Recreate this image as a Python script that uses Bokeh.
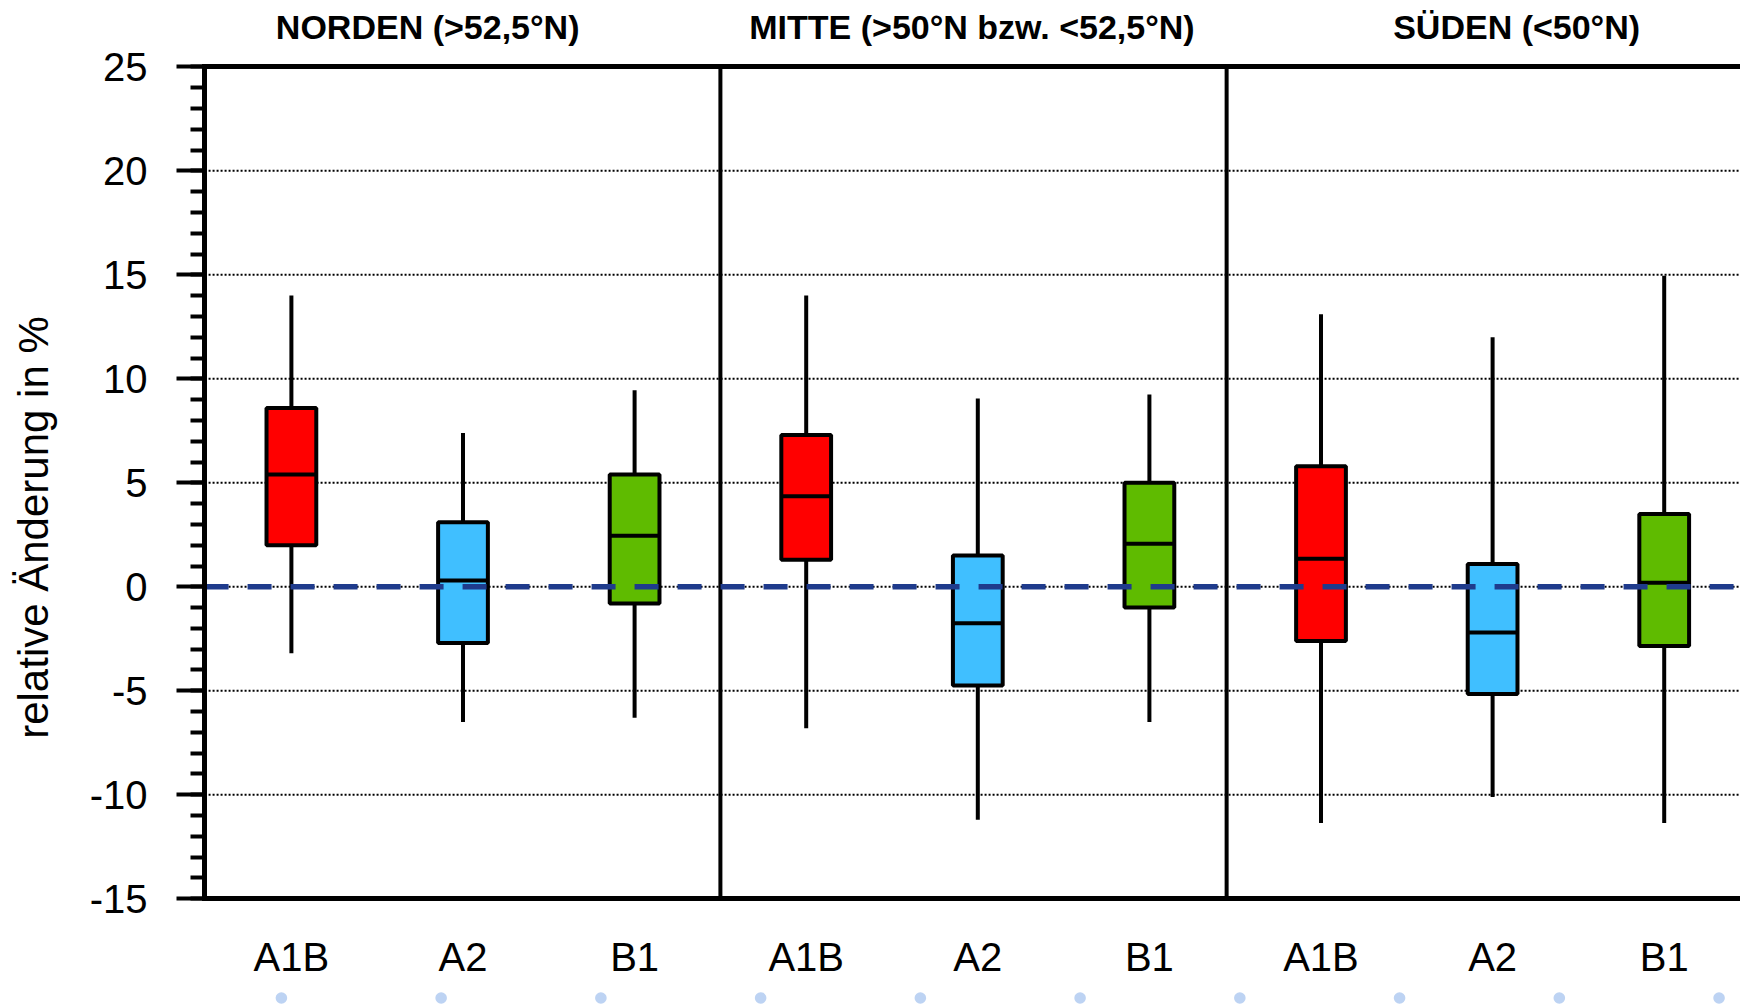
from math import pi

import numpy as np
from bokeh.core.properties import value
from bokeh.embed import file_html
from bokeh.models import ColumnDataSource, FixedTicker, LinearAxis, Range1d
from bokeh.plotting import figure
from bokeh.resources import INLINE

# Regions (panels) and emission scenarios
regions = ["NORDEN (>52,5°N)", "MITTE (>50°N bzw. <52,5°N)", "SÜDEN (<50°N)"]
scenarios = ["A1B", "A2", "B1"]
scenario_colors = ["#ff0000", "#40bfff", "#5fbb00"]

# Box plot statistics, relative change in %, ordered region by region (A1B, A2, B1)
whisker_low = [-3.2, -6.5, -6.3, -6.8, -11.2, -6.5, -11.35, -10.1, -11.35]
quartile_1 = [2.0, -2.7, -0.8, 1.3, -4.75, -1.0, -2.6, -5.15, -2.85]
median = [5.4, 0.3, 2.45, 4.35, -1.75, 2.07, 1.35, -2.2, 0.2]
quartile_3 = [8.6, 3.1, 5.4, 7.3, 1.5, 5.0, 5.8, 1.1, 3.5]
whisker_high = [14.0, 7.4, 9.45, 14.0, 9.05, 9.25, 13.1, 12.0, 14.95]

y_ticks = [-15, -10, -5, 0, 5, 10, 15, 20, 25]
y_label = "relative Änderung in %"

FONT = "Liberation Sans"
BOX_W = 0.29

# plotting area limits (data units)
X_LO, X_HI = -0.506, 8.445
Y_LO, Y_HI = -15, 25

xs = list(range(len(regions) * len(scenarios)))
src = ColumnDataSource(dict(
    x=xs,
    lo=whisker_low,
    q1=quartile_1,
    med=median,
    q3=quartile_3,
    hi=whisker_high,
    color=[scenario_colors[i % 3] for i in xs],
    x0=[x - BOX_W / 2 for x in xs],
    x1=[x + BOX_W / 2 for x in xs],
))

# the frame fills the whole canvas; axes are pinned to the plotting area
p = figure(
    width=1740, height=1004,
    x_range=Range1d(-1.6952, 8.4446), y_range=Range1d(-20.082, 28.188),
    output_backend="svg", toolbar_location=None,
    x_axis_location=None, y_axis_location=None,
    min_border=0, outline_line_color=None,
    background_fill_color="white", border_fill_color="white",
)
p.grid.visible = False
p.extra_x_ranges = {"page": Range1d(0, 1740)}
p.extra_y_ranges = {"page": Range1d(1004, 0)}

# dotted grid lines between the frame edges
grid_y = [t for t in y_ticks if Y_LO < t < Y_HI]
p.segment(x0=[X_LO] * len(grid_y), x1=[X_HI] * len(grid_y), y0=grid_y, y1=grid_y,
          line_color="black", line_width=2, line_dash="2 2")

# panel separators
seps = [2.5, 5.45]
p.segment(x0=seps, x1=seps, y0=[Y_LO] * 2, y1=[Y_HI] * 2, line_color="black", line_width=4)

# whiskers, boxes, medians
p.segment(x0="x", y0="lo", x1="x", y1="hi", source=src, line_color="black", line_width=4)
p.vbar(x="x", width=BOX_W, top="q3", bottom="q1", source=src,
       fill_color="color", line_color="black", line_width=4)
p.segment(x0="x0", y0="med", x1="x1", y1="med", source=src, line_color="black", line_width=4)

# zero reference line
p.segment(x0=[X_LO], x1=[X_HI], y0=[0], y1=[0], line_color="#1f3b8c",
          line_width=5.5, line_dash="24 19")

# y axis with minor ticks every 1 %
ya = LinearAxis(
    fixed_location=X_LO, bounds=(Y_LO, Y_HI),
    ticker=FixedTicker(ticks=y_ticks, minor_ticks=list(range(Y_LO, Y_HI + 1))),
    major_label_overrides={t: str(t) for t in y_ticks},
    axis_line_width=5, axis_line_color="black", axis_line_cap="square",
    major_tick_line_width=4, minor_tick_line_width=4,
    major_tick_out=28, major_tick_in=0, minor_tick_out=14, minor_tick_in=0,
    major_label_text_font=FONT, major_label_text_font_size="40px",
    major_label_text_color="black", major_label_standoff=29,
)
p.add_layout(ya, "left")

# x axis: scenario names under every box
xa = LinearAxis(
    fixed_location=Y_LO, bounds=(X_LO, X_HI),
    ticker=FixedTicker(ticks=xs, minor_ticks=[]),
    major_label_overrides={i: scenarios[i % 3] for i in xs},
    axis_line_width=5, axis_line_color="black", axis_line_cap="square",
    major_tick_out=0, major_tick_in=0, minor_tick_out=0, minor_tick_in=0,
    major_label_text_font=FONT, major_label_text_font_size="40px",
    major_label_text_color="black", major_label_standoff=36,
)
p.add_layout(xa, "below")

# top frame line
top = LinearAxis(
    fixed_location=Y_HI, bounds=(X_LO, X_HI),
    ticker=FixedTicker(ticks=[], minor_ticks=[]),
    axis_line_width=5, axis_line_color="black", axis_line_cap="square",
    major_tick_out=0, major_tick_in=0, minor_tick_out=0, minor_tick_in=0,
    major_label_text_font_size="0px",
)
p.add_layout(top, "above")

# panel titles
title_x = [0.794, 3.966, 7.14]
p.text(x=title_x, y=[26.92] * 3, text=regions, text_align="center", text_baseline="middle",
       text_font=value(FONT), text_font_size="34px", text_font_style="bold", text_color="black")

# y axis title
p.text(x=[-1.5], y=[2.85], text=[y_label], angle=pi / 2, text_align="center",
       text_baseline="middle", text_font=value(FONT), text_font_size="42px", text_color="black")

# page indicator dots below the chart
dot_x = 280.9 + 159.74 * np.arange(10)
p.scatter(x=dot_x, y=[997.5] * len(dot_x), size=11.6, fill_color="#bdd3f3", line_color=None,
          x_range_name="page", y_range_name="page")

open("out.html", "w").write(file_html(p, INLINE))
